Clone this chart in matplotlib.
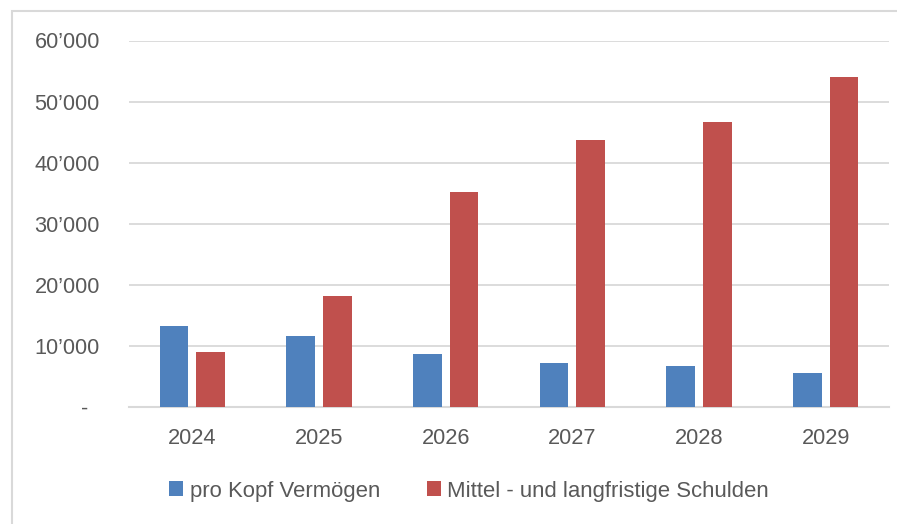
import numpy as np
import matplotlib.pyplot as plt
from matplotlib.patches import Rectangle

years = ["2024", "2025", "2026", "2027", "2028", "2029"]
vermoegen = [13200, 11600, 8700, 7200, 6700, 5500]
schulden = [9000, 18200, 35200, 43700, 46700, 54100]
yticks = [0, 10000, 20000, 30000, 40000, 50000, 60000]
ytick_labels = ["-  ", "10’000", "20’000", "30’000", "40’000", "50’000", "60’000"]

plt.rcParams['font.family'] = ['Liberation Sans', 'DejaVu Sans']
txt = '#595959'
grid = '#D9D9D9'

fig = plt.figure(figsize=(8.97, 5.24), dpi=100)
ax = fig.add_axes([129/897, 1 - 407/524, (889 - 129)/897, (407 - 40.5)/524])

x = np.arange(len(years))
w = 0.228
ax.bar(x - 0.145, vermoegen, w, color='#4F81BD', label='pro Kopf Vermögen', zorder=3)
ax.bar(x + 0.145, schulden, w, color='#C0504D', label='Mittel - und langfristige Schulden', zorder=3)

ax.set_xlim(-0.5, 5.5)
ax.set_ylim(0, 60000)
ax.set_yticks(yticks)
ax.set_yticklabels(ytick_labels)
ax.set_xticks(x)
ax.set_xticklabels(years)
ax.tick_params(axis='y', length=0, pad=21, labelsize=15.7, labelcolor=txt)
ax.tick_params(axis='x', length=0, pad=15, labelsize=15.7, labelcolor=txt)
ax.yaxis.grid(True, color=grid, linewidth=1.3, zorder=0)
for s in ['top', 'right', 'left']:
    ax.spines[s].set_visible(False)
ax.spines['bottom'].set_color(grid)
ax.spines['bottom'].set_linewidth(1.5)

leg = fig.legend(loc='center', bbox_to_anchor=(469/897, 1 - 491/524), ncol=2, frameon=False,
                 fontsize=15.9, handlelength=0.65, handleheight=0.65, handletextpad=0.3,
                 columnspacing=2.1)
for t in leg.get_texts():
    t.set_color(txt)

# Rahmen um das Diagramm
fig.patches.append(Rectangle((12/897, -0.05), 1.0, 1 - 11/524 + 0.05, transform=fig.transFigure,
                             fill=False, edgecolor=grid, linewidth=1.5))

plt.savefig('out.png', dpi=100)
